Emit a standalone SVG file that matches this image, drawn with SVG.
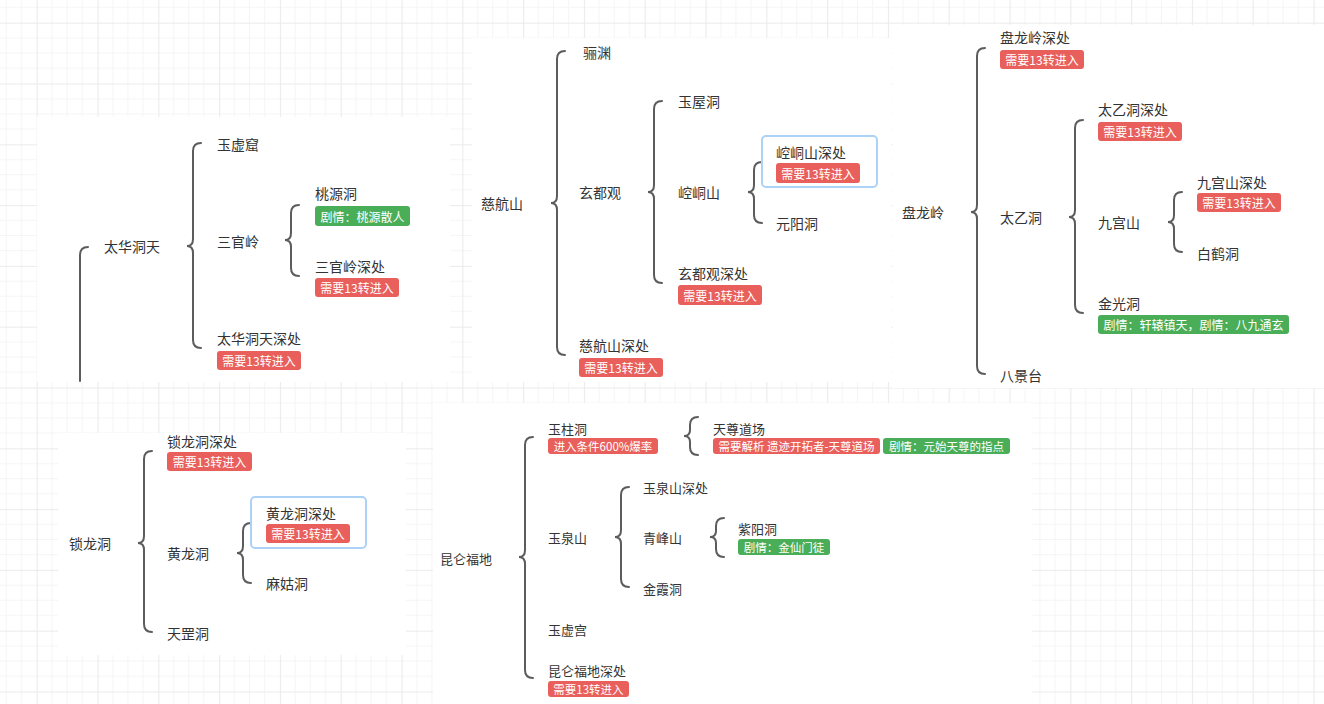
<svg xmlns="http://www.w3.org/2000/svg" width="1324" height="704" viewBox="0 0 1324 704">
<style>
.t{font-family:"Noto Sans CJK SC","Microsoft YaHei",sans-serif;font-size:14px;fill:#333;dominant-baseline:central}
.t5{font-size:13px}
.bt{font-family:"Noto Sans CJK SC",sans-serif;font-size:12px;fill:#fff;dominant-baseline:central;text-anchor:middle}
.bt5{font-size:11.5px}
.red{fill:#e85f5c}
.green{fill:#4aad57}
.br{fill:none;stroke:#5c5c5c;stroke-width:2;stroke-linecap:round}
.sel{fill:none;stroke:#acd2f6;stroke-width:2}
.panel{fill:#fff}
</style>
<defs>
<pattern id="grid" patternUnits="userSpaceOnUse" x="36.7" y="22.7" width="60.8" height="60.8">
<path d="M15.2 0V60.8M30.4 0V60.8M45.6 0V60.8M0 15.2H60.8M0 30.4H60.8M0 45.6H60.8" stroke="#f5f5f5" stroke-width="1" fill="none"/>
<path d="M0.5 0V60.8M0 0.5H60.8" stroke="#ebebeb" stroke-width="1.2" fill="none"/>
</pattern>
</defs>
<rect width="1324" height="704" fill="#fff"/>
<rect width="1324" height="704" fill="url(#grid)"/>
<g id="panels">
<rect class="panel" x="37" y="117" width="413" height="265"/>
<rect class="panel" x="472" y="38" width="419" height="344"/>
<rect class="panel" x="892.5" y="25" width="432" height="363"/>
<rect class="panel" x="58" y="433" width="348" height="222"/>
<rect class="panel" x="433" y="403" width="599" height="301"/>
</g>
<g id="connectors">
<path class="br" d="M88 247Q80 247 80 255L80 381"/>
<path class="br" d="M201 143Q193 143 193 151L193 239Q193 246 187 246Q193 246 193 253L193 340Q193 348 201 348"/>
<path class="br" d="M299 205Q291 205 291 213L291 233Q291 240 285 240Q291 240 291 247L291 268Q291 276 299 276"/>
<path class="br" d="M565 51Q557 51 557 59L557 196Q557 203 551 203Q557 203 557 210L557 347Q557 355 565 355"/>
<path class="br" d="M662 101Q654 101 654 109L654 185Q654 192 648 192Q654 192 654 199L654 275Q654 283 662 283"/>
<path class="br" d="M762 162Q754 162 754 170L754 185Q754 192 748 192Q754 192 754 199L754 215Q754 223 762 223"/>
<path class="br" d="M985 48Q977 48 977 56L977 205Q977 212 971 212Q977 212 977 219L977 366Q977 374 985 374"/>
<path class="br" d="M1083 120Q1075 120 1075 128L1075 210Q1075 217 1069 217Q1075 217 1075 224L1075 305Q1075 313 1083 313"/>
<path class="br" d="M1182 192Q1174 192 1174 200L1174 215Q1174 222 1168 222Q1174 222 1174 229L1174 244Q1174 252 1182 252"/>
<path class="br" d="M152 451Q144 451 144 459L144 536Q144 543 138 543Q144 543 144 550L144 624Q144 632 152 632"/>
<path class="br" d="M251 523Q243 523 243 531L243 546Q243 553 237 553Q243 553 243 560L243 575Q243 583 251 583"/>
<path class="br" d="M533 437Q525 437 525 445L525 550Q525 557 519 557Q525 557 525 564L525 670Q525 678 533 678"/>
<path class="br" d="M698 417Q690 417 690 425L690 430Q690 436 684 436Q690 436 690 442L690 447Q690 455 698 455"/>
<path class="br" d="M629 487Q621 487 621 495L621 530Q621 537 615 537Q621 537 621 544L621 579Q621 587 629 587"/>
<path class="br" d="M724 518Q716 518 716 526L716 531Q716 537 710 537Q716 537 716 543L716 549Q716 557 724 557"/>
</g>
<g id="n-taihua">
<text class="t" x="104" y="246">太华洞天</text>
</g>
<g id="n-yuxuku"><text class="t" x="217" y="144">玉虚窟</text></g>
<g id="n-sanguanling"><text class="t" x="217" y="241">三官岭</text></g>
<g id="n-taoyuandong">
<text class="t" x="315" y="193">桃源洞</text>
<rect class="green" x="315" y="206" width="95" height="20" rx="3"/>
<text class="bt" x="362.5" y="216">剧情：桃源散人</text>
</g>
<g id="n-sanguanling-deep">
<text class="t" x="315" y="266">三官岭深处</text>
<rect class="red" x="315" y="278" width="84" height="19" rx="3"/>
<text class="bt" x="357" y="287.5">需要13转进入</text>
</g>
<g id="n-taihua-deep">
<text class="t" x="217" y="338">太华洞天深处</text>
<rect class="red" x="217" y="351" width="84" height="19" rx="3"/>
<text class="bt" x="259" y="360.5">需要13转进入</text>
</g>
<g id="n-cihangshan"><text class="t" x="481" y="203">慈航山</text></g>
<g id="n-liyuan"><text class="t" x="583" y="52">骊渊</text></g>
<g id="n-xuandu"><text class="t" x="579" y="192">玄都观</text></g>
<g id="n-yuwu"><text class="t" x="678" y="101">玉屋洞</text></g>
<g id="n-kongtong"><text class="t" x="678" y="192">崆峒山</text></g>
<g id="n-kongtong-deep">
<rect class="sel" x="762" y="136" width="115" height="51" rx="4"/>
<text class="t" x="776" y="152">崆峒山深处</text>
<rect class="red" x="776" y="163" width="84" height="20" rx="3"/>
<text class="bt" x="818" y="173">需要13转进入</text>
</g>
<g id="n-yuanyang"><text class="t" x="776" y="223">元阳洞</text></g>
<g id="n-xuandu-deep">
<text class="t" x="678" y="273">玄都观深处</text>
<rect class="red" x="678" y="285" width="84" height="20" rx="3"/>
<text class="bt" x="720" y="295">需要13转进入</text>
</g>
<g id="n-cihang-deep">
<text class="t" x="579" y="345">慈航山深处</text>
<rect class="red" x="579" y="358" width="84" height="19" rx="3"/>
<text class="bt" x="621" y="367.5">需要13转进入</text>
</g>
<g id="n-panlong"><text class="t" x="902" y="212">盘龙岭</text></g>
<g id="n-panlong-deep">
<text class="t" x="1000" y="37">盘龙岭深处</text>
<rect class="red" x="1000" y="50" width="84" height="19" rx="3"/>
<text class="bt" x="1042" y="59.5">需要13转进入</text>
</g>
<g id="n-taiyi"><text class="t" x="1000" y="217">太乙洞</text></g>
<g id="n-taiyi-deep">
<text class="t" x="1098" y="109">太乙洞深处</text>
<rect class="red" x="1098" y="122" width="84" height="19" rx="3"/>
<text class="bt" x="1140" y="131.5">需要13转进入</text>
</g>
<g id="n-jiugong"><text class="t" x="1098" y="222">九宫山</text></g>
<g id="n-jiugong-deep">
<text class="t" x="1197" y="182">九宫山深处</text>
<rect class="red" x="1197" y="193" width="84" height="19" rx="3"/>
<text class="bt" x="1239" y="202.5">需要13转进入</text>
</g>
<g id="n-baihe"><text class="t" x="1197" y="253">白鹤洞</text></g>
<g id="n-jinguang">
<text class="t" x="1098" y="303">金光洞</text>
<rect class="green" x="1098" y="315" width="191" height="19" rx="3"/>
<text class="bt" x="1193.5" y="324.5">剧情：轩辕镇天，剧情：八九通玄</text>
</g>
<g id="n-bajing"><text class="t" x="1000" y="375">八景台</text></g>
<g id="n-suolong"><text class="t" x="69" y="543">锁龙洞</text></g>
<g id="n-suolong-deep">
<text class="t" x="167" y="441">锁龙洞深处</text>
<rect class="red" x="167" y="452" width="85" height="19" rx="3"/>
<text class="bt" x="209.5" y="461.5">需要13转进入</text>
</g>
<g id="n-huanglong"><text class="t" x="167" y="553">黄龙洞</text></g>
<g id="n-huanglong-deep">
<rect class="sel" x="251" y="497" width="115" height="51" rx="4"/>
<text class="t" x="266" y="513">黄龙洞深处</text>
<rect class="red" x="266" y="524" width="84" height="19" rx="3"/>
<text class="bt" x="308" y="533.5">需要13转进入</text>
</g>
<g id="n-magu"><text class="t" x="266" y="583">麻姑洞</text></g>
<g id="n-tiangang"><text class="t" x="167" y="633">天罡洞</text></g>
<g id="n-kunlun"><text class="t t5" x="440" y="558">昆仑福地</text></g>
<g id="n-yuzhu">
<text class="t t5" x="548" y="428">玉柱洞</text>
<rect class="red" x="548" y="438" width="110" height="16" rx="3"/>
<text class="bt bt5" x="603" y="446">进入条件600%爆率</text>
</g>
<g id="n-tianzun">
<text class="t t5" x="713" y="428">天尊道场</text>
<rect class="red" x="713" y="438" width="167" height="16" rx="3"/>
<text class="bt bt5" x="796.5" y="446">需要解析 遗迹开拓者-天尊道场</text>
<rect class="green" x="883" y="438" width="127" height="16" rx="3"/>
<text class="bt bt5" x="946.5" y="446">剧情：元始天尊的指点</text>
</g>
<g id="n-yuquan"><text class="t t5" x="548" y="537">玉泉山</text></g>
<g id="n-yuquan-deep"><text class="t t5" x="643" y="487">玉泉山深处</text></g>
<g id="n-qingfeng"><text class="t t5" x="643" y="537">青峰山</text></g>
<g id="n-ziyang">
<text class="t t5" x="738" y="528">紫阳洞</text>
<rect class="green" x="738" y="539" width="92" height="16" rx="3"/>
<text class="bt bt5" x="784" y="547">剧情：金仙门徒</text>
</g>
<g id="n-jinxia"><text class="t t5" x="643" y="588">金霞洞</text></g>
<g id="n-yuxugong"><text class="t t5" x="548" y="629">玉虚宫</text></g>
<g id="n-kunlun-deep">
<text class="t t5" x="548" y="670">昆仑福地深处</text>
<rect class="red" x="548" y="681" width="81" height="16" rx="3"/>
<text class="bt bt5" x="588.5" y="689">需要13转进入</text>
</g>
</svg>
